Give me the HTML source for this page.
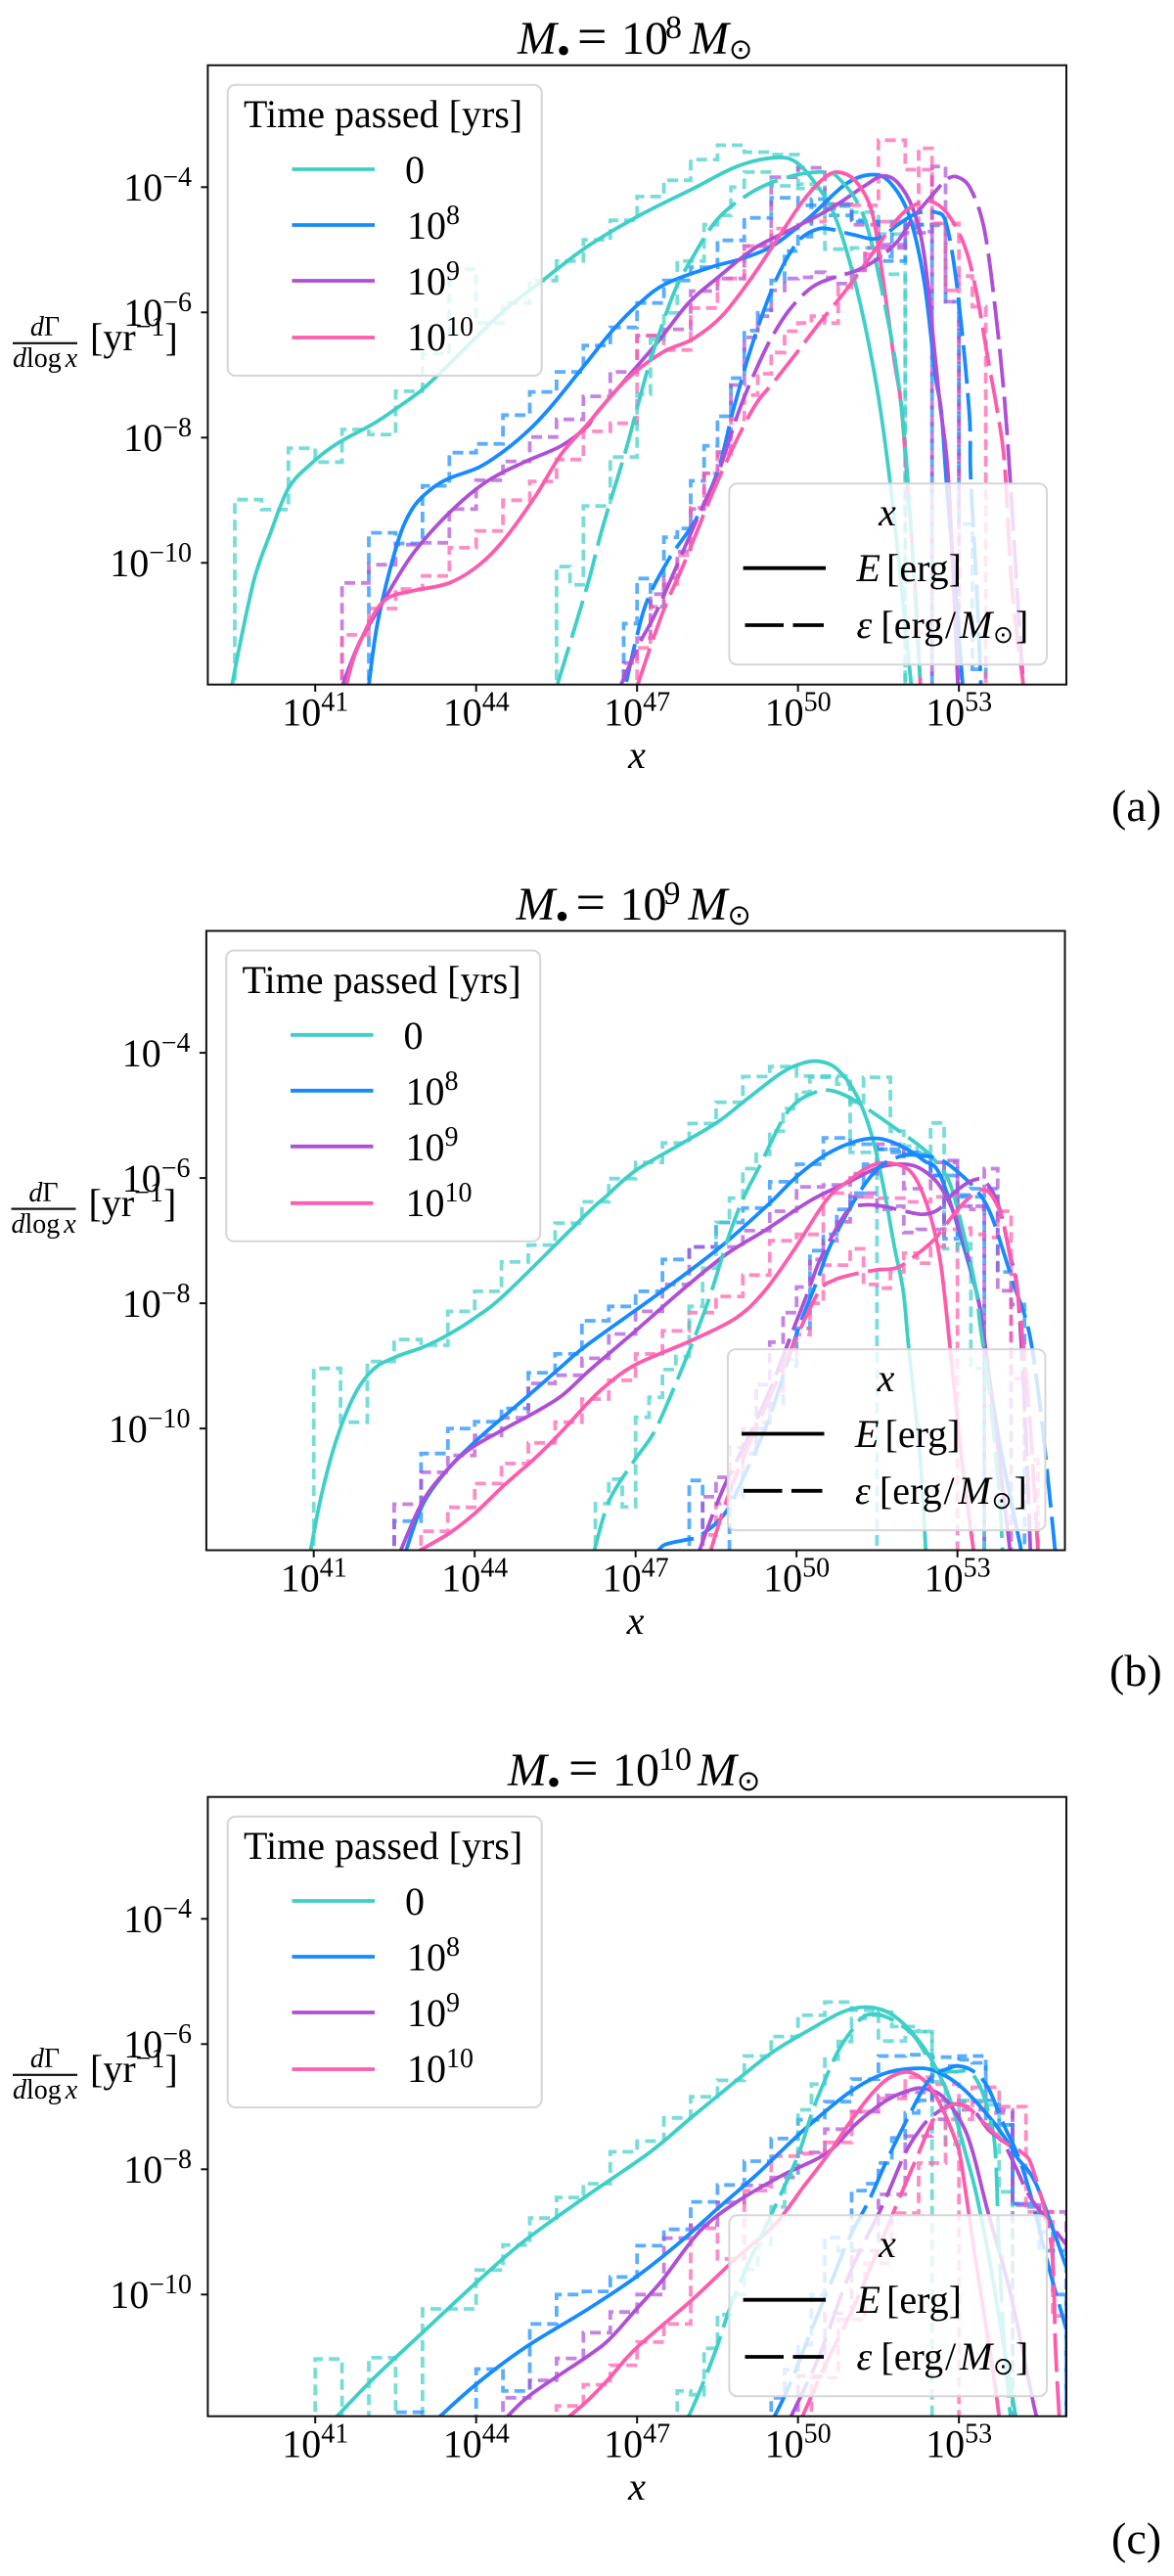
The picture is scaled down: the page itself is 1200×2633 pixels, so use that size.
<!DOCTYPE html>
<html lang="en">
<head>
<meta charset="utf-8">
<title>Differential rate versus energy for three black hole masses</title>
<style>
html,body{margin:0;padding:0;background:#fff;}
svg{display:block;}
text{font-family:"Liberation Serif","DejaVu Serif",serif;fill:#000;}
.it{font-style:italic;}
.sun{font-family:"DejaVu Sans",sans-serif;}
</style>
</head>
<body>
<svg id="figure" xmlns="http://www.w3.org/2000/svg" width="1200" height="2633" viewBox="0 0 1200 2633">
<defs>
<clipPath id="plot-clip"><rect x="212.4" y="66.7" width="877.6" height="633"/></clipPath>
</defs>
<rect x="0" y="0" width="1200" height="2633" fill="#fff"/>

<!-- PANEL A -->
<g id="panel-a">
<g id="marks-a" clip-path="url(#plot-clip)"></g>
<rect x="212.4" y="66.7" width="877.6" height="633" fill="none" stroke="#111" stroke-width="2"/>
<g id="ticks-a"></g>
<text font-size="48" y="55"><tspan class="it" x="529">M</tspan><tspan x="569" y="65" font-size="40">•</tspan><tspan x="590" y="55" font-size="54">=</tspan><tspan x="635" font-size="48">10</tspan><tspan x="680" y="39" font-size="34">8</tspan><tspan class="it" x="705" y="55">M</tspan><tspan class="sun" x="745" y="60" font-size="29">⊙</tspan></text>
<text class="it" font-size="40" x="651" y="785" text-anchor="middle">x</text>
<g>
<text font-size="28" x="46" y="343" text-anchor="middle"><tspan class="it">d</tspan>Γ</text>
<rect x="13" y="349.7" width="66" height="2.2" fill="#111"/>
<text font-size="28" x="13" y="375"><tspan class="it">d</tspan>log<tspan class="it" dx="4">x</tspan></text>
<text font-size="40" x="92" y="358">[yr<tspan font-size="28" dy="-15">−1</tspan><tspan dy="15">]</tspan></text>
</g>
<g>
<rect x="232.7" y="86.7" width="321" height="297.3" rx="8" fill="#fff" fill-opacity="0.8" stroke="#d6d6d6" stroke-width="2"/>
<text font-size="40" x="249" y="130">Time passed [yrs]</text>
<line x1="298.5" x2="383" y1="173" y2="173" stroke="#3ecfc8" stroke-width="3.8"/>
<text font-size="40" x="414" y="187">0</text>
<line x1="298.5" x2="383" y1="230" y2="230" stroke="#158bff" stroke-width="3.8"/>
<text font-size="40" x="416" y="244">10<tspan font-size="28" dy="-15">8</tspan></text>
<line x1="298.5" x2="383" y1="287" y2="287" stroke="#ae4fd6" stroke-width="3.8"/>
<text font-size="40" x="416" y="301">10<tspan font-size="28" dy="-15">9</tspan></text>
<line x1="298.5" x2="383" y1="345" y2="345" stroke="#ff5bad" stroke-width="3.8"/>
<text font-size="40" x="416" y="358">10<tspan font-size="28" dy="-15">10</tspan></text>
</g>
<g>
<rect x="745.4" y="494.3" width="324.6" height="185" rx="8" fill="#fff" fill-opacity="0.8" stroke="#d6d6d6" stroke-width="2"/>
<text class="it" font-size="40" x="907" y="537" text-anchor="middle">x</text>
<line x1="759.6" x2="844" y1="580.7" y2="580.7" stroke="#000" stroke-width="3.8"/>
<text font-size="40" y="594"><tspan class="it" x="875.5">E</tspan><tspan x="906">[erg]</tspan></text>
<line x1="761.5" x2="842" y1="639" y2="639" stroke="#000" stroke-width="3.8" stroke-dasharray="39.5 9.5"/>
<text font-size="40" y="652"><tspan class="it" x="875.5">ε</tspan><tspan x="900.4">[erg</tspan><tspan x="966">/</tspan><tspan class="it" x="981">M</tspan><tspan class="sun" x="1015" y="657" font-size="25">⊙</tspan><tspan x="1038" y="652">]</tspan></text>
</g>
</g>

<!-- PANEL B -->
<g id="panel-b" transform="translate(-1.5,884.8)">
<g id="marks-b" clip-path="url(#plot-clip)"></g>
<rect x="212.4" y="66.7" width="877.6" height="633" fill="none" stroke="#111" stroke-width="2"/>
<g id="ticks-b"></g>
<text font-size="48" y="55"><tspan class="it" x="529">M</tspan><tspan x="569" y="65" font-size="40">•</tspan><tspan x="590" y="55" font-size="54">=</tspan><tspan x="635" font-size="48">10</tspan><tspan x="680" y="39" font-size="34">9</tspan><tspan class="it" x="705" y="55">M</tspan><tspan class="sun" x="745" y="60" font-size="29">⊙</tspan></text>
<text class="it" font-size="40" x="651" y="785" text-anchor="middle">x</text>
<g>
<text font-size="28" x="46" y="343" text-anchor="middle"><tspan class="it">d</tspan>Γ</text>
<rect x="13" y="349.7" width="66" height="2.2" fill="#111"/>
<text font-size="28" x="13" y="375"><tspan class="it">d</tspan>log<tspan class="it" dx="4">x</tspan></text>
<text font-size="40" x="92" y="358">[yr<tspan font-size="28" dy="-15">−1</tspan><tspan dy="15">]</tspan></text>
</g>
<g>
<rect x="232.7" y="86.7" width="321" height="297.3" rx="8" fill="#fff" fill-opacity="0.8" stroke="#d6d6d6" stroke-width="2"/>
<text font-size="40" x="249" y="130">Time passed [yrs]</text>
<line x1="298.5" x2="383" y1="173" y2="173" stroke="#3ecfc8" stroke-width="3.8"/>
<text font-size="40" x="414" y="187">0</text>
<line x1="298.5" x2="383" y1="230" y2="230" stroke="#158bff" stroke-width="3.8"/>
<text font-size="40" x="416" y="244">10<tspan font-size="28" dy="-15">8</tspan></text>
<line x1="298.5" x2="383" y1="287" y2="287" stroke="#ae4fd6" stroke-width="3.8"/>
<text font-size="40" x="416" y="301">10<tspan font-size="28" dy="-15">9</tspan></text>
<line x1="298.5" x2="383" y1="345" y2="345" stroke="#ff5bad" stroke-width="3.8"/>
<text font-size="40" x="416" y="358">10<tspan font-size="28" dy="-15">10</tspan></text>
</g>
<g>
<rect x="745.4" y="494.3" width="324.6" height="185" rx="8" fill="#fff" fill-opacity="0.8" stroke="#d6d6d6" stroke-width="2"/>
<text class="it" font-size="40" x="907" y="537" text-anchor="middle">x</text>
<line x1="759.6" x2="844" y1="580.7" y2="580.7" stroke="#000" stroke-width="3.8"/>
<text font-size="40" y="594"><tspan class="it" x="875.5">E</tspan><tspan x="906">[erg]</tspan></text>
<line x1="761.5" x2="842" y1="639" y2="639" stroke="#000" stroke-width="3.8" stroke-dasharray="39.5 9.5"/>
<text font-size="40" y="652"><tspan class="it" x="875.5">ε</tspan><tspan x="900.4">[erg</tspan><tspan x="966">/</tspan><tspan class="it" x="981">M</tspan><tspan class="sun" x="1015" y="657" font-size="25">⊙</tspan><tspan x="1038" y="652">]</tspan></text>
</g>
</g>

<!-- PANEL C -->
<g id="panel-c" transform="translate(0,1770)">
<g id="marks-c" clip-path="url(#plot-clip)"></g>
<rect x="212.4" y="66.7" width="877.6" height="633" fill="none" stroke="#111" stroke-width="2"/>
<g id="ticks-c"></g>
<text font-size="48" y="55"><tspan class="it" x="519">M</tspan><tspan x="559" y="65" font-size="40">•</tspan><tspan x="581" y="55" font-size="54">=</tspan><tspan x="626" font-size="48">10</tspan><tspan x="673" y="39" font-size="34">10</tspan><tspan class="it" x="713" y="55">M</tspan><tspan class="sun" x="753" y="60" font-size="29">⊙</tspan></text>
<text class="it" font-size="40" x="651" y="785" text-anchor="middle">x</text>
<g>
<text font-size="28" x="46" y="343" text-anchor="middle"><tspan class="it">d</tspan>Γ</text>
<rect x="13" y="349.7" width="66" height="2.2" fill="#111"/>
<text font-size="28" x="13" y="375"><tspan class="it">d</tspan>log<tspan class="it" dx="4">x</tspan></text>
<text font-size="40" x="92" y="358">[yr<tspan font-size="28" dy="-15">−1</tspan><tspan dy="15">]</tspan></text>
</g>
<g>
<rect x="232.7" y="86.7" width="321" height="297.3" rx="8" fill="#fff" fill-opacity="0.8" stroke="#d6d6d6" stroke-width="2"/>
<text font-size="40" x="249" y="130">Time passed [yrs]</text>
<line x1="298.5" x2="383" y1="173" y2="173" stroke="#3ecfc8" stroke-width="3.8"/>
<text font-size="40" x="414" y="187">0</text>
<line x1="298.5" x2="383" y1="230" y2="230" stroke="#158bff" stroke-width="3.8"/>
<text font-size="40" x="416" y="244">10<tspan font-size="28" dy="-15">8</tspan></text>
<line x1="298.5" x2="383" y1="287" y2="287" stroke="#ae4fd6" stroke-width="3.8"/>
<text font-size="40" x="416" y="301">10<tspan font-size="28" dy="-15">9</tspan></text>
<line x1="298.5" x2="383" y1="345" y2="345" stroke="#ff5bad" stroke-width="3.8"/>
<text font-size="40" x="416" y="358">10<tspan font-size="28" dy="-15">10</tspan></text>
</g>
<g>
<rect x="745.4" y="494.3" width="324.6" height="185" rx="8" fill="#fff" fill-opacity="0.8" stroke="#d6d6d6" stroke-width="2"/>
<text class="it" font-size="40" x="907" y="537" text-anchor="middle">x</text>
<line x1="759.6" x2="844" y1="580.7" y2="580.7" stroke="#000" stroke-width="3.8"/>
<text font-size="40" y="594"><tspan class="it" x="875.5">E</tspan><tspan x="906">[erg]</tspan></text>
<line x1="761.5" x2="842" y1="639" y2="639" stroke="#000" stroke-width="3.8" stroke-dasharray="39.5 9.5"/>
<text font-size="40" y="652"><tspan class="it" x="875.5">ε</tspan><tspan x="900.4">[erg</tspan><tspan x="966">/</tspan><tspan class="it" x="981">M</tspan><tspan class="sun" x="1015" y="657" font-size="25">⊙</tspan><tspan x="1038" y="652">]</tspan></text>
</g>
</g>

<text font-size="46" x="1136" y="839">(a)</text>
<text font-size="46" x="1134" y="1723">(b)</text>
<text font-size="46" x="1136" y="2610">(c)</text>
</svg>

<script>
// Tick labels (log10 values)
const xTickExponents = [41, 44, 47, 50, 53];
const yTickExponents = [-4, -6, -8, -10];

// Series colours by time passed: 0, 1e8, 1e9, 1e10 yrs
const seriesColors = ['#3ecfc8', '#158bff', '#ae4fd6', '#ff5bad'];

// All values below are [log10 x, log10 rate]
// ---- Panel A: M = 1e8 ----
const a_E_t0 = [[39.45,-11.95],[39.59,-11.33],[39.87,-10.24],[40.15,-9.56],[40.5,-8.81],[40.92,-8.42],[41.4,-8.1],[42.1,-7.77],[42.52,-7.53],[42.94,-7.27],[43.29,-7],[44.47,-6.01],[45.24,-5.49],[46.07,-4.95],[47.05,-4.45],[48.03,-4.03],[48.86,-3.67],[49.56,-3.53],[49.98,-3.61],[50.4,-4.03],[50.68,-4.45],[50.96,-5.18],[51.24,-6.17],[51.5,-7.35],[51.72,-8.73],[51.93,-10.4],[52.11,-11.95]];
const a_E_t1 = [[42,-11.95],[42.17,-10.92],[42.52,-9.72],[42.8,-9.15],[43.15,-8.83],[43.5,-8.65],[44.06,-8.47],[44.54,-8.2],[45.03,-7.84],[45.45,-7.45],[46.07,-6.79],[46.56,-6.27],[47.05,-5.85],[47.54,-5.54],[48.37,-5.28],[49,-5.13],[49.56,-4.92],[50.19,-4.5],[50.89,-3.95],[51.38,-3.8],[51.72,-3.93],[52.07,-4.45],[52.35,-5.49],[52.56,-7],[52.67,-7.57],[52.77,-8.73],[52.95,-10.6],[53.07,-11.95]];
const a_E_t2 = [[41.51,-11.95],[41.82,-11.28],[42.24,-10.66],[42.8,-9.88],[43.5,-9.2],[44.2,-8.7],[44.9,-8.39],[45.59,-8.13],[46.07,-7.82],[46.28,-7.57],[47.33,-6.53],[47.96,-5.85],[48.51,-5.44],[49.2,-4.97],[49.91,-4.66],[50.61,-4.34],[51.24,-3.98],[51.58,-3.82],[51.86,-3.93],[52.14,-4.34],[52.35,-5.07],[52.56,-6.74],[52.65,-7.5],[52.81,-8.73],[52.98,-11.95]];
const a_E_t3 = [[41.58,-11.95],[41.75,-11.44],[42.1,-10.81],[42.38,-10.55],[42.8,-10.45],[43.5,-10.32],[44.06,-10.03],[44.54,-9.61],[45.1,-8.94],[45.59,-8.26],[46.07,-7.79],[46.77,-7.1],[47.47,-6.64],[48.03,-6.43],[48.58,-6.06],[49.14,-5.44],[49.63,-4.81],[50.12,-4.19],[50.54,-3.82],[50.82,-3.77],[51.1,-3.93],[51.38,-4.4],[51.58,-5.44],[51.79,-6.74],[51.92,-7.45],[52.04,-8.73],[52.2,-10.6],[52.28,-11.95]];
const a_Eps_t0 = [[45.52,-11.93],[46.07,-10.37],[46.35,-9.46],[46.77,-8.26],[47.01,-7.5],[47.26,-6.74],[47.68,-5.7],[48.03,-5.13],[48.51,-4.5],[49.14,-4.08],[49.77,-3.85],[50.4,-3.76],[50.75,-3.85],[51.24,-4.5],[51.65,-6.01],[51.86,-7.05],[52,-8.16],[52.14,-9.88],[52.28,-11.95]];
const a_Eps_t1 = [[46.8,-11.9],[46.98,-11.23],[47.19,-10.6],[47.6,-9.93],[48.1,-9.3],[48.51,-8.52],[48.79,-7.57],[49.14,-6.53],[49.56,-5.54],[49.98,-4.89],[50.33,-4.68],[50.6,-4.67],[51.03,-4.76],[51.48,-4.82],[51.86,-4.6],[52.21,-4.42],[52.56,-4.4],[52.77,-4.6],[52.98,-5.7],[53.19,-7.57],[53.22,-8.63],[53.33,-10.4],[53.41,-11.95]];
const a_Eps_t2 = [[46.7,-11.95],[47.05,-11.28],[47.4,-10.71],[48.17,-9.2],[48.51,-8.57],[48.9,-7.57],[49.2,-6.95],[49.49,-6.43],[49.84,-5.96],[50.26,-5.6],[50.68,-5.44],[51.1,-5.33],[51.51,-5.13],[51.86,-4.86],[52.14,-4.5],[52.49,-4.14],[52.77,-3.88],[52.98,-3.84],[53.22,-4.03],[53.47,-4.66],[53.68,-5.96],[53.85,-7.4],[53.96,-8.73],[54.1,-10.66],[54.2,-11.95]];
const a_Eps_t3 = [[47.01,-11.95],[47.47,-10.81],[47.89,-9.98],[48.51,-8.68],[49.14,-7.57],[49.56,-7.1],[49.98,-6.64],[50.4,-6.17],[50.89,-5.65],[51.38,-5.07],[51.86,-4.5],[52.21,-4.27],[52.49,-4.23],[52.81,-4.45],[53.12,-4.97],[53.33,-5.7],[53.54,-6.74],[53.71,-7.55],[53.85,-8.41],[53.99,-10.4],[54.2,-11.95]];
const a_histE_t0 = {start:39.5, step:0.5, logRate:[-8.99,-9.15,-8.17,-8.39,-7.87,-7.95,-7.26,-6.66,-5.31,-6.17,-5.85,-5.49,-5.18,-4.84,-4.53,-4.15,-3.89,-3.56,-3.33,-3.44,-3.48,-3.95,-4.27,-4.4,-4.75]};
const a_histE_t1 = {start:42, step:0.5, logRate:[-9.52,-9.69,-8.77,-8.24,-8.1,-7.64,-7.27,-6.95,-6.53,-6.24,-5.85,-5.49,-5.28,-4.85,-4.49,-4.17,-4.29,-4.45,-4.55,-5.18,-4.6]};
const a_histE_t2 = {start:41.5, step:0.5, logRate:[-10.32,-10.03,-9.71,-9.68,-9.14,-8.68,-8.38,-7.99,-7.71,-7.34,-6.95,-6.37,-6.27,-5.66,-5.46,-4.94,-3.84,-3.69,-4.27,-4.6,-4.97,-4.73]};
const a_histE_t3 = {start:41.5, step:0.5, logRate:[-11.15,-10.73,-10.42,-10.21,-9.76,-9.49,-9,-8.7,-8.35,-7.9,-7.77,-6.37,-6.6,-5.93,-5.46,-4.94,-4.66,-4.55,-4.27,-4.29,-3.25,-3.72,-4.58]};
const a_histEps_t0 = {start:45.5, step:0.25, logRate:[-10.06,-10.35,-9.09,-9.09,-8.31,-8.31,-7.31,-6.43,-6.01,-5.18,-5.18,-4.6,-4.45,-4,-3.76,-3.76,-3.98,-3.98,-4.02,-4.02,-4.99,-4.99,-4.97,-4.97,-5.39,-5.39]};
const a_histEps_t1 = {start:46.75, step:0.25, logRate:[-10.97,-10.25,-10.7,-9.59,-9.45,-8.69,-8.13,-7.66,-7.05,-6.29,-5.96,-5.49,-5.02,-4.79,-4.19,-4.34,-4.3,-4.53,-4.55,-5.11,-4.55,-4.63,-4.6,-4.61,-5.83,-9.38,-11.7]};
const a_histEps_t2 = {start:46.75, step:0.25, logRate:[-11.6,-11.2,-10.5,-10.24,-9.82,-9.14,-8.57,-8.23,-7.16,-6.4,-6.06,-5.65,-5.46,-5.44,-5.36,-5.44,-5.54,-5.33,-4.97,-4.92,-4.92,-4.66,-4.71,-3.67,-5.83]};
const a_histEps_t3 = {start:47, step:0.25, logRate:[-11.36,-10.7,-10.34,-9.88,-9.12,-8.57,-8.26,-7.71,-7.32,-6.98,-6.64,-6.3,-6.17,-6.06,-6.17,-5.6,-5.3,-5.07,-4.55,-4.55,-4.55,-3.38,-4.58,-5.65,-5.42,-5.91]};

// ---- Panel B: M = 1e9 ----
const b_E_t0 = [[40.94,-11.95],[41.15,-11.04],[41.43,-10.16],[41.78,-9.43],[42.13,-9.04],[42.55,-8.85],[43.04,-8.7],[43.53,-8.49],[44.01,-8.23],[44.6,-7.83],[46.09,-6.57],[46.44,-6.3],[47,-5.88],[47.84,-5.46],[48.54,-5.1],[49.09,-4.73],[49.72,-4.32],[50.14,-4.16],[50.45,-4.14],[50.77,-4.27],[51.12,-4.68],[51.4,-5.31],[51.61,-6.09],[51.82,-7.08],[51.99,-7.81],[52.09,-8.7],[52.3,-10.42],[52.41,-11.95]];
const b_E_t1 = [[42.72,-11.95],[43.04,-11.2],[43.53,-10.62],[44.01,-10.21],[44.5,-9.84],[45.06,-9.43],[45.62,-9.01],[46.09,-8.67],[47.49,-7.81],[48.54,-7.13],[49.44,-6.45],[50,-5.98],[50.56,-5.62],[51.12,-5.41],[51.54,-5.37],[51.95,-5.49],[52.37,-5.72],[52.72,-6.04],[53.35,-7.81],[53.49,-8.59],[53.77,-10.16],[54.19,-11.95]];
const b_E_t2 = [[42.62,-11.95],[43.04,-11.15],[43.53,-10.62],[43.94,-10.31],[44.57,-10],[45.13,-9.74],[45.62,-9.48],[46.09,-9.11],[46.51,-8.8],[47,-8.44],[47.84,-7.81],[48.67,-7.23],[49.44,-6.82],[50.28,-6.35],[50.98,-6.06],[51.54,-5.83],[52.02,-5.78],[52.37,-5.88],[52.72,-6.19],[53.07,-6.87],[53.35,-7.81],[53.49,-8.49],[53.77,-10.42],[53.98,-11.95]];
const b_E_t3 = [[42.97,-11.95],[43.53,-11.67],[44.01,-11.35],[44.57,-10.89],[45.13,-10.47],[45.62,-10.05],[46.09,-9.61],[46.44,-9.32],[47,-8.98],[48.05,-8.59],[48.88,-8.23],[49.4,-7.81],[49.93,-7.18],[50.56,-6.35],[50.98,-6.04],[51.4,-5.8],[51.81,-5.77],[52.16,-5.93],[52.44,-6.45],[52.65,-7.18],[52.79,-8.1],[53.07,-10.42],[53.3,-11.95]];
const b_Eps_t0 = [[46.23,-11.95],[46.51,-11.15],[46.97,-10.52],[47.35,-10.05],[47.73,-9.32],[48.05,-8.65],[48.38,-7.9],[48.74,-6.92],[49.02,-6.3],[49.3,-5.83],[49.72,-5.1],[50,-4.79],[50.35,-4.63],[50.63,-4.6],[50.98,-4.71],[51.4,-4.94],[51.88,-5.23],[52.3,-5.49],[52.58,-5.72],[52.86,-6.09],[53.14,-6.97],[53.35,-7.81],[53.42,-8.33],[53.59,-9.37],[53.77,-10.94],[53.84,-11.95]];
const b_Eps_t1 = [[47.42,-11.95],[47.56,-11.85],[47.98,-11.77],[48.19,-11.72],[48.67,-11.35],[49.09,-10.63],[49.51,-9.79],[50,-8.49],[50.38,-7.65],[50.63,-7.08],[51.12,-6.3],[51.54,-5.83],[51.95,-5.65],[52.3,-5.64],[52.72,-5.72],[53.21,-6.06],[53.49,-6.35],[53.66,-6.66],[53.84,-7.13],[54.05,-7.7],[54.33,-8.44],[54.54,-9.64],[54.72,-11.09],[54.82,-11.95]];
const b_Eps_t2 = [[48.19,-11.95],[48.4,-11.46],[48.67,-10.89],[49.09,-10.16],[49.51,-9.37],[49.93,-8.44],[50.2,-7.85],[50.42,-7.34],[50.7,-6.87],[50.98,-6.5],[51.26,-6.43],[51.61,-6.45],[52.02,-6.53],[52.37,-6.58],[52.65,-6.5],[52.93,-6.24],[53.28,-6.04],[53.52,-6.06],[53.77,-6.45],[53.98,-7.23],[54.12,-7.81],[54.25,-9.6],[54.36,-11.95]];
const b_Eps_t3 = [[48.4,-11.95],[48.74,-11.04],[49.16,-10.16],[49.51,-9.48],[50,-8.54],[50.42,-7.81],[50.7,-7.63],[51.05,-7.54],[51.47,-7.47],[51.88,-7.43],[52.23,-7.23],[52.58,-6.97],[52.86,-6.66],[53.14,-6.38],[53.42,-6.19],[53.63,-6.27],[53.84,-6.66],[54.01,-7.39],[54.12,-7.81],[54.33,-9.64],[54.5,-11.95]];
const b_histE_t0 = {start:41, step:0.5, logRate:[-9.04,-9.9,-8.93,-8.58,-8.67,-8.13,-7.81,-7.34,-7.07,-6.72,-6.38,-6.01,-5.75,-5.44,-5.13,-4.79,-4.38,-4.22,-4.37,-4.37,-5.59]};
const b_histE_t1 = {start:42.5, step:0.5, logRate:[-11.48,-10.4,-10,-9.89,-9.68,-9.11,-8.81,-8.28,-8.05,-7.81,-7.3,-7.1,-6.71,-6.48,-6.06,-5.78,-5.36,-5.46,-5.54,-5.62,-5.96,-6.3]};
const b_histE_t2 = {start:42.5, step:0.5, logRate:[-11.21,-10.7,-10.43,-10.11,-9.83,-9.28,-9.15,-8.88,-8.49,-8.13,-7.7,-7.1,-7.1,-6.84,-6.53,-6.14,-6.11,-5.93,-5.46,-6.17,-5.75,-6.45]};
const b_histE_t3 = {start:43, step:0.5, logRate:[-11.64,-11.26,-10.88,-10.56,-10.23,-9.9,-9.53,-9.23,-8.81,-8.44,-8.15,-7.89,-7.55,-7,-6.9,-6.24,-6.3,-6.32,-6.38,-6.3]};
const b_histEps_t0 = {start:46.25, step:0.25, logRate:[-11.2,-10.81,-11.25,-9.82,-9.5,-9.06,-8.85,-8.05,-7.44,-6.71,-6.32,-5.85,-5.62,-5.25,-4.89,-4.63,-4.39,-4.39,-4.5,-4.79,-4.39,-4.39,-5.25,-5.49,-5.59,-5.12,-7.13,-7.05,-9.04]};
const b_histEps_t1 = {start:48, step:0.25, logRate:[-10.83,-14,-14,-11.1,-10.4,-10,-9.6,-9,-8.4,-7.16,-6.9,-6.5,-6.24,-5.78,-5.54,-5.59,-5.59,-5.65,-5.96,-6.97,-6.27,-6.17,-6.17,-7.5,-8.02]};
const b_histEps_t2 = {start:48.25, step:0.25, logRate:[-11.09,-10.78,-10.3,-10,-9.3,-8.62,-8.15,-7.74,-7.3,-7,-6.7,-6.3,-6.24,-6.5,-6.45,-6.87,-6.82,-6.82,-5.72,-6.45,-6.5,-5.85,-7.8]};
const b_histEps_t3 = {start:48.25, step:0.25, logRate:[-11.7,-11.2,-10.7,-10.3,-9.9,-9.4,-8.9,-8.5,-8,-7.39,-7.39,-7.13,-7.7,-7.76,-7.5,-7.2,-7.36,-7.1,-6.82,-6.8,-6.9,-6.95,-6.53,-9.2,-10.5]};

// ---- Panel C: M = 1e10 ----
const c_E_t0 = [[41.4,-11.95],[42.1,-11.33],[43.01,-10.6],[43.99,-9.82],[44.89,-9.15],[46.07,-8.42],[47.22,-7.74],[48.03,-7.16],[49,-6.48],[49.56,-6.11],[50.26,-5.75],[50.82,-5.49],[51.24,-5.41],[51.65,-5.48],[52,-5.7],[52.35,-6.06],[52.6,-6.43],[52.84,-6.9],[53.12,-7.73],[53.33,-8.42],[53.6,-9.6],[53.85,-10.9],[54.06,-11.95]];
const c_E_t1 = [[43.32,-11.95],[43.99,-11.44],[44.89,-10.86],[46.07,-10.24],[46.98,-9.72],[47.82,-9.15],[48.51,-8.62],[49.21,-8.1],[49.65,-7.74],[50.19,-7.31],[50.96,-6.77],[51.58,-6.48],[52.14,-6.39],[52.56,-6.43],[53.05,-6.69],[53.61,-7.21],[53.96,-7.63],[54.1,-7.83],[54.45,-8.26],[55,-9.56]];
const c_E_t2 = [[44.58,-11.95],[45.03,-11.59],[46.07,-10.99],[46.49,-10.71],[46.98,-10.24],[47.47,-9.77],[48.17,-8.99],[48.86,-8.52],[49.7,-8.1],[50.54,-7.74],[51.1,-7.26],[51.65,-6.9],[52.07,-6.74],[52.35,-6.71],[52.7,-6.84],[53.05,-7.26],[53.26,-7.73],[53.54,-8.68],[53.96,-9.98],[54.38,-11.7],[54.45,-11.95]];
const c_E_t3 = [[45.73,-11.95],[46.07,-11.7],[46.49,-11.33],[46.98,-10.86],[48.03,-10.08],[48.86,-9.41],[49.56,-8.89],[50.12,-8.26],[50.58,-7.74],[50.96,-7.26],[51.38,-6.79],[51.72,-6.53],[52.07,-6.45],[52.42,-6.64],[52.7,-7.05],[52.95,-7.57],[53.05,-7.93],[53.33,-9.56],[53.61,-11.07],[53.75,-11.95]];
const c_Eps_t0 = [[47.96,-11.95],[48.17,-11.54],[48.48,-10.86],[48.72,-10.24],[49.07,-9.51],[49.56,-8.62],[50,-7.78],[50.26,-7.1],[50.47,-6.64],[50.75,-6.11],[51.03,-5.75],[51.27,-5.54],[51.65,-5.57],[52.14,-5.85],[52.56,-6.38],[52.91,-6.44],[53.19,-6.44],[53.4,-6.69],[53.57,-7.16],[53.68,-7.73],[53.75,-9.3],[53.85,-10.86],[53.96,-11.95]];
const c_Eps_t1 = [[49.56,-11.95],[49.84,-11.45],[50.26,-10.55],[50.61,-9.82],[50.96,-9.09],[51.31,-8.52],[51.58,-8],[51.72,-7.74],[52,-7.26],[52.35,-6.69],[52.56,-6.48],[52.77,-6.4],[52.98,-6.35],[53.26,-6.43],[53.54,-6.69],[53.82,-7.26],[54.1,-7.78],[54.34,-8.42],[54.69,-9.61],[55,-10.55]];
const c_Eps_t2 = [[49.87,-11.95],[50.4,-10.97],[50.96,-9.67],[51.58,-8.57],[52,-7.74],[52.28,-7.36],[52.49,-7.16],[52.77,-7],[52.95,-6.96],[53.26,-7.05],[53.54,-7.36],[53.82,-7.57],[54.05,-7.95],[54.31,-8.42],[54.66,-8.83],[55,-9.2]];
const c_Eps_t3 = [[50.08,-11.95],[50.54,-11.07],[51.1,-10.08],[51.86,-8.52],[52.25,-7.74],[52.49,-7.26],[52.7,-7.05],[52.95,-6.96],[53.19,-7.03],[53.47,-7.26],[53.82,-7.55],[54.17,-7.73],[54.38,-8],[54.72,-9.2],[54.8,-10.86],[54.87,-11.95]];
const c_histE_t0 = {start:41, step:0.5, logRate:[-11.03,-14,-11.01,-14,-10.23,-10.23,-9.61,-9.21,-8.78,-8.45,-8.23,-7.72,-7.55,-7.18,-6.84,-6.58,-6.19,-5.88,-5.54,-5.33,-5.46,-5.95,-5.8]};
const c_histE_t1 = {start:42.5, step:0.5, logRate:[-11.88,-14,-14,-11.19,-11.54,-10.47,-10,-9.95,-9.72,-9.22,-8.96,-8.52,-8.25,-7.87,-7.51,-7.21,-6.92,-6.56,-6.19,-6.17,-6.21,-6.19,-7.29,-8.55,-9.3]};
const c_histE_t2 = {start:44.5, step:0.5, logRate:[-11.65,-11.37,-11.02,-10.61,-10.28,-10,-9.1,-8.89,-8.53,-8.26,-8.13,-7.73,-7.36,-7.08,-6.82,-6.77,-6.9,-6.92,-7.1]};
const c_histE_t3 = {start:45.5, step:0.5, logRate:[-11.78,-11.44,-11.13,-10.76,-10.47,-8.94,-9.43,-8.34,-7.79,-7.75,-7.57,-7.08,-6.87,-6.53,-6.64]};
const c_histEps_t0 = {start:47.75, step:0.25, logRate:[-11.54,-11.6,-10.86,-10.32,-10,-9.6,-9.2,-8.6,-8.1,-7.05,-6.64,-6.24,-5.96,-5.59,-5.54,-5.49,-5.72,-5.72,-5.8,-6.6,-7.6,-6.9,-6.9,-6.97,-8.36]};
const c_histEps_t1 = {start:49.5, step:0.25, logRate:[-11.65,-11.2,-10.8,-10,-9.09,-9.3,-8.34,-8.23,-7.9,-7.5,-7.1,-6.9,-6.5,-6.35,-6.25,-6.3,-6.9,-7.29,-8.55,-8.6,-9,-10]};
const c_histEps_t2 = {start:50, step:0.5, logRate:[-11.3,-10.3,-9.3,-8.4,-7.47,-7.2,-7.05,-7.05,-8.57,-8.68,-9.25]};
const c_histEps_t3 = {start:50.25, step:0.5, logRate:[-11.33,-10.4,-9.5,-8.7,-7.9,-7.2,-6.69,-7,-8.68,-10.34]};

const panelSeries = [
  {id:'a', curvesE:[a_E_t0,a_E_t1,a_E_t2,a_E_t3], curvesEps:[a_Eps_t0,a_Eps_t1,a_Eps_t2,a_Eps_t3], histsE:[a_histE_t0,a_histE_t1,a_histE_t2,a_histE_t3], histsEps:[a_histEps_t0,a_histEps_t1,a_histEps_t2,a_histEps_t3]},
  {id:'b', curvesE:[b_E_t0,b_E_t1,b_E_t2,b_E_t3], curvesEps:[b_Eps_t0,b_Eps_t1,b_Eps_t2,b_Eps_t3], histsE:[b_histE_t0,b_histE_t1,b_histE_t2,b_histE_t3], histsEps:[b_histEps_t0,b_histEps_t1,b_histEps_t2,b_histEps_t3]},
  {id:'c', curvesE:[c_E_t0,c_E_t1,c_E_t2,c_E_t3], curvesEps:[c_Eps_t0,c_Eps_t1,c_Eps_t2,c_Eps_t3], histsE:[c_histE_t0,c_histE_t1,c_histE_t2,c_histE_t3], histsEps:[c_histEps_t0,c_histEps_t1,c_histEps_t2,c_histEps_t3]}
];

const SVG_NS = 'http://www.w3.org/2000/svg';
const xPixelsPerDecade = 54.83;
const yPixelsPerDecade = 64;
function xScale(logX){ return 322.2 + (logX - 41) * xPixelsPerDecade; }
function yScale(logY){ return 191.3 + (-4 - logY) * yPixelsPerDecade; }
const offAxisLog = -14;

function curvePath(points){
  const p = points.map(function(q){ return [xScale(q[0]), yScale(q[1])]; });
  let d = 'M' + p[0][0].toFixed(1) + ' ' + p[0][1].toFixed(1);
  for (let i = 0; i < p.length - 1; i++){
    const p0 = p[Math.max(i - 1, 0)];
    const p1 = p[i];
    const p2 = p[i + 1];
    const p3 = p[Math.min(i + 2, p.length - 1)];
    const c1x = p1[0] + (p2[0] - p0[0]) / 6;
    const c1y = p1[1] + (p2[1] - p0[1]) / 6;
    const c2x = p2[0] - (p3[0] - p1[0]) / 6;
    const c2y = p2[1] - (p3[1] - p1[1]) / 6;
    d += 'C' + c1x.toFixed(1) + ' ' + c1y.toFixed(1) + ' ' + c2x.toFixed(1) + ' ' + c2y.toFixed(1) + ' ' + p2[0].toFixed(1) + ' ' + p2[1].toFixed(1);
  }
  return d;
}

function histPath(hist){
  let d = 'M' + xScale(hist.start).toFixed(1) + ' ' + yScale(offAxisLog).toFixed(1);
  hist.logRate.forEach(function(v, i){
    const left = xScale(hist.start + i * hist.step);
    const right = xScale(hist.start + (i + 1) * hist.step);
    const y = yScale(v);
    d += 'L' + left.toFixed(1) + ' ' + y.toFixed(1) + 'L' + right.toFixed(1) + ' ' + y.toFixed(1);
  });
  d += 'L' + xScale(hist.start + hist.logRate.length * hist.step).toFixed(1) + ' ' + yScale(offAxisLog).toFixed(1);
  return d;
}

function addPath(parent, d, color, dash, opacity){
  const el = document.createElementNS(SVG_NS, 'path');
  el.setAttribute('d', d);
  el.setAttribute('fill', 'none');
  el.setAttribute('stroke', color);
  el.setAttribute('stroke-width', '3.8');
  if (dash) el.setAttribute('stroke-dasharray', dash);
  if (opacity) el.setAttribute('stroke-opacity', opacity);
  parent.appendChild(el);
  return el;
}

function drawTicks(group){
  xTickExponents.forEach(function(exp){
    const x = xScale(exp);
    const tick = document.createElementNS(SVG_NS, 'line');
    tick.setAttribute('x1', x);
    tick.setAttribute('x2', x);
    tick.setAttribute('y1', 699.7);
    tick.setAttribute('y2', 707);
    tick.setAttribute('stroke', '#111');
    tick.setAttribute('stroke-width', '2');
    
    
    group.appendChild(tick);
    const label = document.createElementNS(SVG_NS, 'text');
    label.setAttribute('x', x);
    label.setAttribute('y', 741.7);
    label.setAttribute('font-size', '40');
    label.setAttribute('text-anchor', 'middle');
    
    
    label.appendChild(document.createTextNode('10'));
    const sup = document.createElementNS(SVG_NS, 'tspan');
    sup.setAttribute('font-size', '28');
    sup.setAttribute('dy', '-15');
    sup.textContent = String(exp);
    label.appendChild(sup);
    group.appendChild(label);
  });
  yTickExponents.forEach(function(exp){
    const y = yScale(exp);
    const tick = document.createElementNS(SVG_NS, 'line');
    tick.setAttribute('x1', 205.4);
    tick.setAttribute('x2', 212.4);
    tick.setAttribute('y1', y);
    tick.setAttribute('y2', y);
    tick.setAttribute('stroke', '#111');
    tick.setAttribute('stroke-width', '2');
    
    
    group.appendChild(tick);
    const label = document.createElementNS(SVG_NS, 'text');
    label.setAttribute('x', 196);
    label.setAttribute('y', y + 13.7);
    label.setAttribute('font-size', '40');
    label.setAttribute('text-anchor', 'end');
    
    
    label.appendChild(document.createTextNode('10'));
    const sup = document.createElementNS(SVG_NS, 'tspan');
    sup.setAttribute('font-size', '28');
    sup.setAttribute('dy', '-15');
    sup.textContent = '\u2212' + Math.abs(exp);
    label.appendChild(sup);
    group.appendChild(label);
  });
}

panelSeries.forEach(function(panel){
  const marks = document.getElementById('marks-' + panel.id);
  panel.histsE.forEach(function(h, i){
    const el = addPath(marks, histPath(h), seriesColors[i], '11 6', '0.7');
    
    
  });
  panel.histsEps.forEach(function(h, i){
    const el = addPath(marks, histPath(h), seriesColors[i], '11 6', '0.7');
    
    
  });
  panel.curvesE.forEach(function(c, i){
    const el = addPath(marks, curvePath(c), seriesColors[i], null, null);
    
    
  });
  panel.curvesEps.forEach(function(c, i){
    const el = addPath(marks, curvePath(c), seriesColors[i], '39.5 9.5', null);
    
    
  });
  drawTicks(document.getElementById('ticks-' + panel.id));
});
</script>
</body>
</html>
